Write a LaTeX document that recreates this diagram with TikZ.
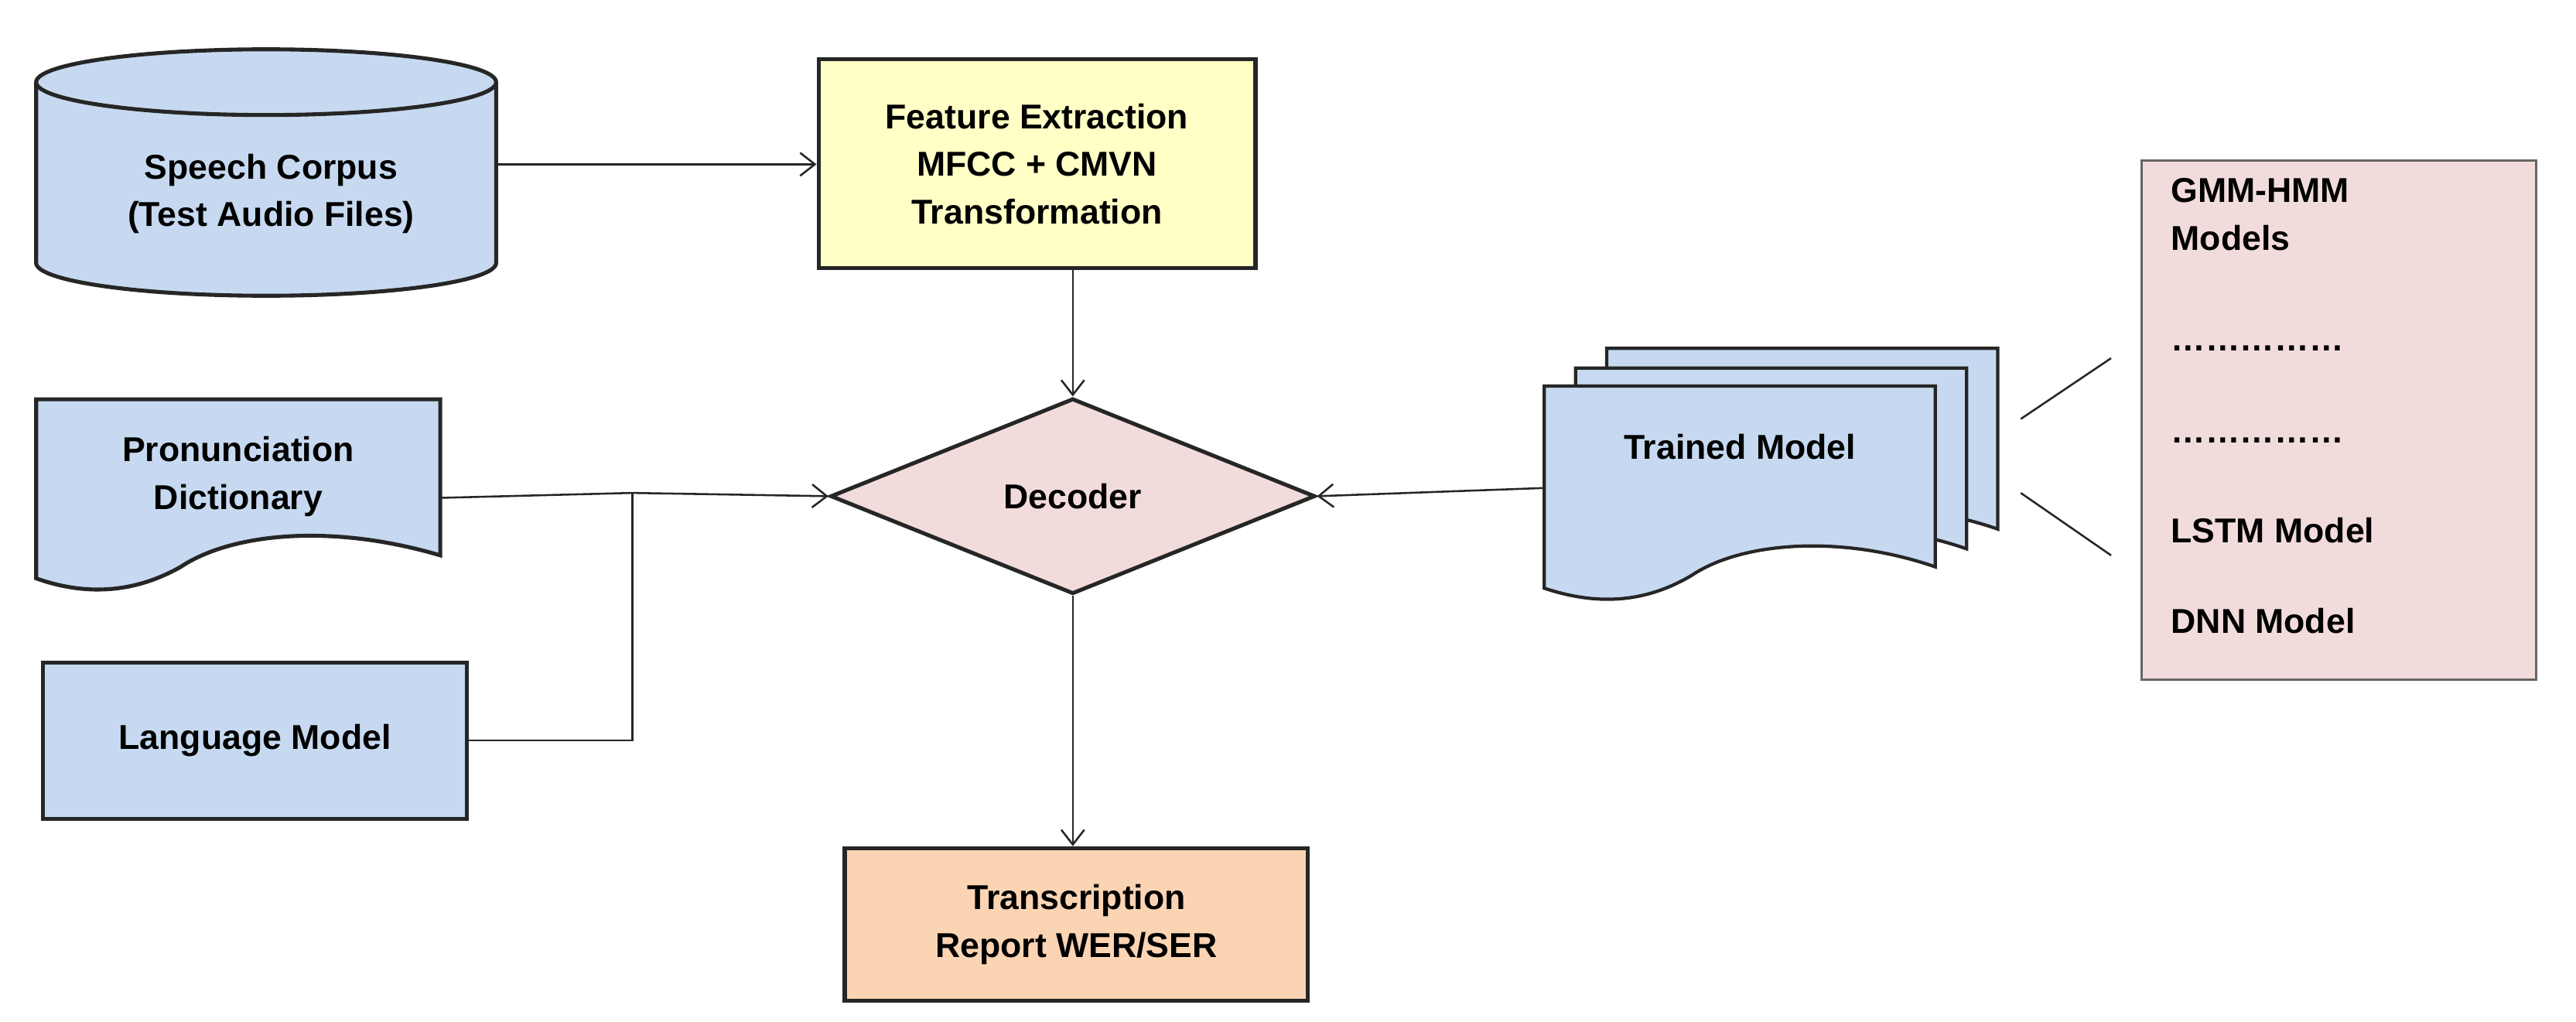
\documentclass[tikz,border=0pt]{standalone}
\usepackage{fontspec}
\setmainfont{Liberation Sans}
\usetikzlibrary{shapes.geometric,arrows.meta}
\definecolor{bl}{HTML}{C6D9F0}
\definecolor{ye}{HTML}{FFFFC6}
\definecolor{pk}{HTML}{F2DCDB}
\definecolor{or}{HTML}{FBD4B4}
\begin{document}
\begin{tikzpicture}[x=1pt,y=-1pt,
  lbl/.style={font=\fontsize{21}{29}\selectfont\bfseries,align=center},
  edge/.style={line width=1.2pt,draw=black!85},
  arr/.style={edge,-{Straight Barb[length=9pt,width=14pt]}},
  box/.style={draw=black!85,line width=2.4pt}]
\useasboundingbox (0,0) rectangle (1568,622);
% cylinder
\draw[box,fill=bl] (22,50) -- (22,160) arc[start angle=180,end angle=0,x radius=140,y radius=20] -- (302,50) arc[start angle=0,end angle=-180,x radius=140,y radius=20] -- cycle;
\draw[box] (22,50) arc[start angle=180,end angle=0,x radius=140,y radius=20];
\node[lbl] (corpus) at (165,118) {Speech Corpus\\(Test Audio Files)};
\coordinate (corpusE) at (302,100);
% feature extraction
\node[box,fill=ye,lbl,minimum width=266pt,minimum height=127pt,anchor=north west] (fe) at (497,35) {Feature Extraction\\MFCC + CMVN\\Transformation};
% decoder
\node[box,draw=black!85,fill=pk,diamond,aspect=2.5,minimum width=295pt,minimum height=119pt,inner sep=0pt,lbl] (dec) at (653,302) {Decoder};
% pronunciation dictionary
\draw[box,fill=bl] (22,243) -- (268,243) -- (268,338) .. controls (200,318) and (140,325) .. (110,345) .. controls (80,362) and (50,362) .. (22,352) -- cycle;
\node[lbl] (pron) at (145,290) {Pronunciation\\Dictionary};
\coordinate (pronE) at (268,303);
% language model
\node[box,fill=bl,lbl,minimum width=258pt,minimum height=95pt,anchor=north west] (lm) at (25,402) {Language Model};
% transcription
\node[box,fill=or,lbl,minimum width=282pt,minimum height=93pt,anchor=north west] (tr) at (513,515) {Transcription\\Report WER/SER};
% trained model stack
\foreach \dx/\dy in {38/-23,19/-11,0/0}{
\draw[box,fill=bl,line width=2pt] (940+\dx,235+\dy) -- (1178+\dx,235+\dy) -- (1178+\dx,345+\dy) .. controls (1120+\dx,325+\dy) and (1060+\dx,330+\dy) .. (1030+\dx,350+\dy) .. controls (1000+\dx,368+\dy) and (970+\dx,368+\dy) .. (940+\dx,358+\dy) -- cycle;}
\node[lbl] (tm) at (1059,272) {Trained Model};
\coordinate (tmW) at (940,297);
% model list
\node[draw=black!60,line width=1.2pt,fill=pk,minimum width=240pt,minimum height=316pt,anchor=north west] (ml) at (1303,97) {};
\node[lbl,align=left,anchor=north west] (mltext) at (1318,105) {GMM-HMM\\Models};
\node[lbl,anchor=west] (d1) at (1318,212) {……………};
\node[lbl,anchor=west] (d2) at (1318,268) {……………};
\node[lbl,anchor=west] (lstm) at (1318,323) {LSTM Model};
\node[lbl,anchor=west] (dnn) at (1318,378) {DNN Model};
\coordinate (l1a) at (1230,255); \coordinate (l1b) at (1285,218);
\coordinate (l2a) at (1230,300); \coordinate (l2b) at (1285,338);
\draw[edge] (l1a) -- (l1b);
\draw[edge] (l2a) -- (l2b);
% arrows
\draw[arr] (corpusE) -- (fe.west |- corpusE);
\draw[arr] (fe.south -| dec.north) -- (dec.north);
\draw[arr] (pronE) -- (385,300) -- (dec.west);
\draw[edge] (lm.east) -| (385,300);
\draw[arr] (tmW) -- (dec.east);
\draw[arr] (dec.south) -- (tr.north -| dec.south);
\end{tikzpicture}
\end{document}
